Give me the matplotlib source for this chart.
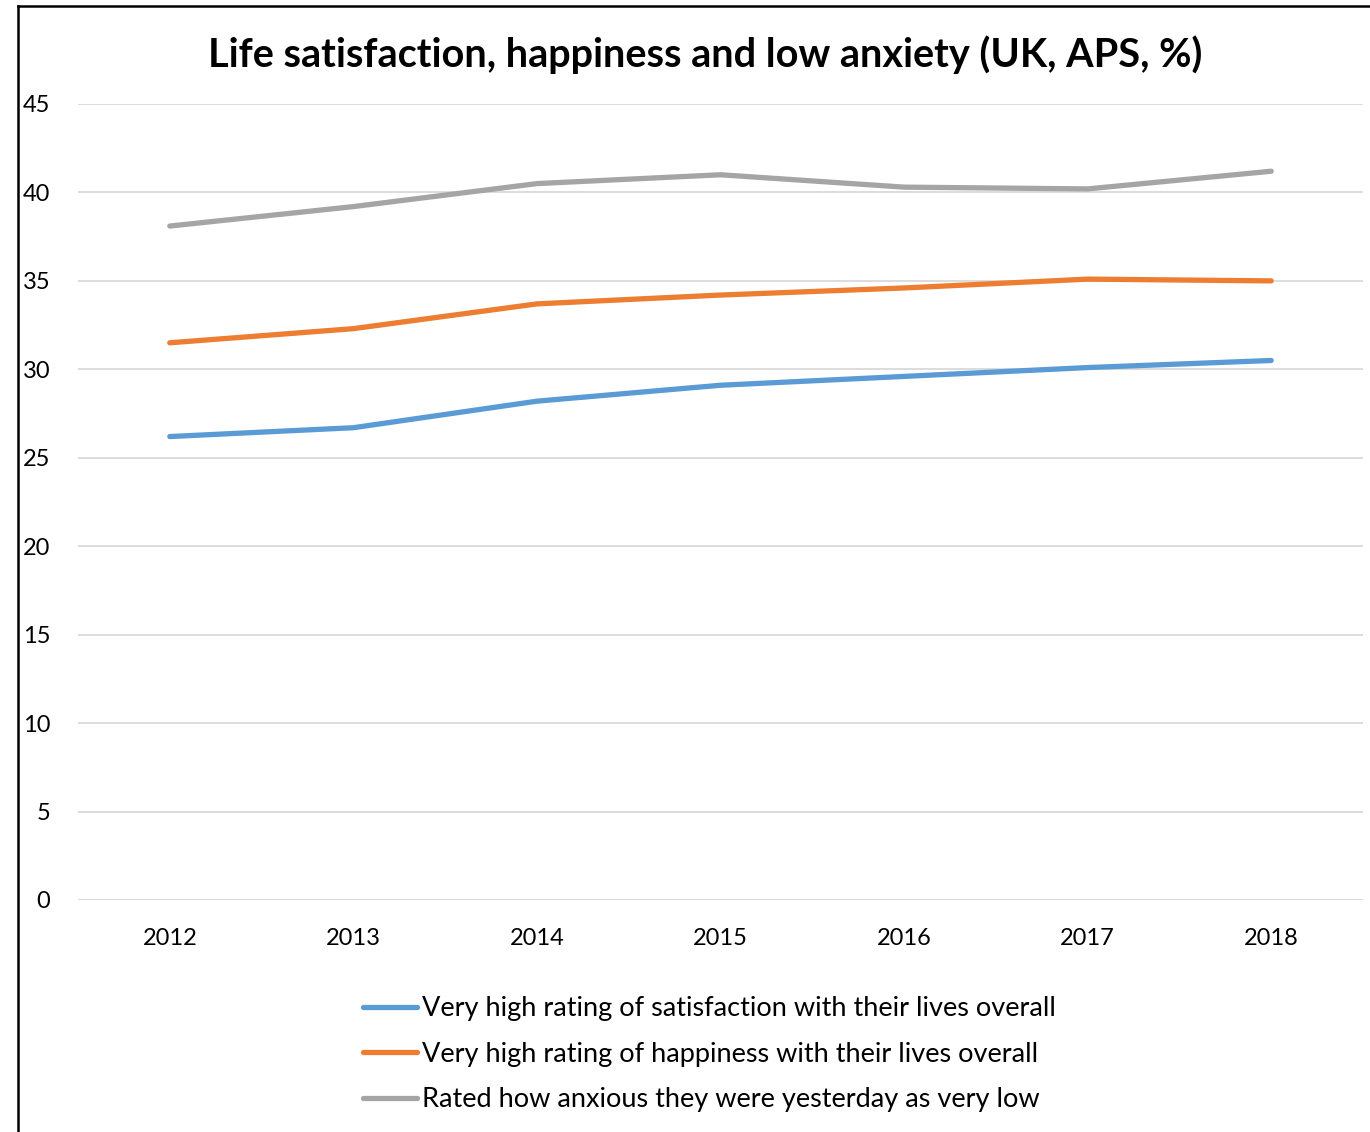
import matplotlib
matplotlib.use('Agg')
import matplotlib.pyplot as plt
from matplotlib.lines import Line2D

years = ['2012', '2013', '2014', '2015', '2016', '2017', '2018']
satisfaction = [26.2, 26.7, 28.2, 29.1, 29.6, 30.1, 30.5]
happiness = [31.5, 32.3, 33.7, 34.2, 34.6, 35.1, 35.0]
low_anxiety = [38.1, 39.2, 40.5, 41.0, 40.3, 40.2, 41.2]
labels = ['Very high rating of satisfaction with their lives overall',
          'Very high rating of happiness with their lives overall',
          'Rated how anxious they were yesterday as very low']
colors = ['#5B9BD5', '#ED7D31', '#A5A5A5']

plt.rcParams['font.family'] = ['Lato', 'DejaVu Sans']

W, H = 1370, 1132
fig = plt.figure(figsize=(W / 100, H / 100), dpi=100)
ax = fig.add_axes([78 / W, 1 - 900 / H, (1363 - 78) / W, (900 - 104) / H])

x = range(len(years))
for vals, lab, c in zip([satisfaction, happiness, low_anxiety], labels, colors):
    ax.plot(x, vals, color=c, lw=3.8, solid_capstyle='round', label=lab)

ax.set_xlim(-0.5, len(years) - 0.5)
ax.set_ylim(0, 45)
ax.set_yticks(range(0, 46, 5))
ax.set_xticks(list(x))
ax.set_xticklabels(years)
ax.grid(axis='y', color='#D9D9D9', lw=1.3)
ax.set_axisbelow(True)
for s in ax.spines.values():
    s.set_visible(False)
ax.tick_params(length=0, labelsize=17, colors='black')
ax.tick_params(axis='y', pad=20)
ax.tick_params(axis='x', pad=20)

fig.text(705 / W, 1 - 55 / H, 'Life satisfaction, happiness and low anxiety (UK, APS, %)',
         ha='center', va='center', fontsize=28.5, fontweight='bold')

leg = fig.legend(loc='upper left', bbox_to_anchor=(363 / W, 1 - 996 / H), frameon=False,
                 fontsize=19.5, handlelength=2.0, handletextpad=0.18, labelspacing=0.76,
                 borderpad=0, borderaxespad=0)

# chart frame (left and top edges)
fig.add_artist(Line2D([18 / W, 18 / W], [0, 1 - 6 / H], color='black', lw=1.8,
                      transform=fig.transFigure))
fig.add_artist(Line2D([18 / W, 1], [1 - 6 / H, 1 - 6 / H], color='black', lw=1.8,
                      transform=fig.transFigure))

fig.savefig('out.png', dpi=100)
